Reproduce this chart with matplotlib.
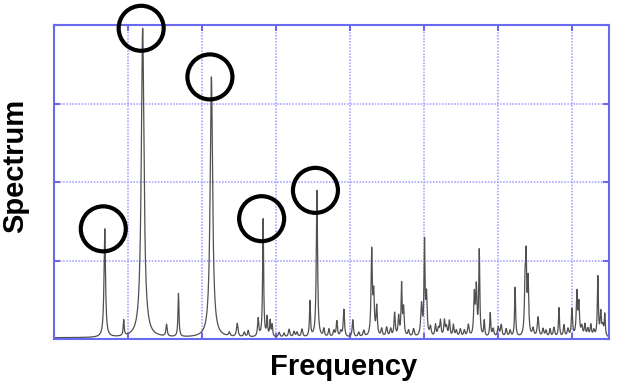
import numpy as np
import matplotlib
matplotlib.use("Agg")
import matplotlib.pyplot as plt

# Peak list (x in grid units 0..7.5, height in grid units 0..4)
peak_pos = [0.686, 0.942, 1.198, 1.521, 1.682, 2.127, 2.476, 2.624, 2.759, 2.826,
            2.880, 2.921, 2.948, 3.177, 3.351, 3.459, 3.553, 3.647, 3.715, 3.822,
            3.917, 4.038, 4.293, 4.320, 4.361, 4.603, 4.657, 4.697, 4.724, 4.966,
            5.007, 5.034, 5.155, 5.222, 5.276, 5.343, 5.397, 5.599, 5.680, 5.707,
            5.747, 5.814, 5.895, 6.043, 6.231, 6.366, 6.380, 6.406, 6.541, 6.703,
            6.824, 6.891, 6.999, 7.066, 7.093, 7.174, 7.254, 7.349, 7.389, 7.443]
peak_height = [1.38, 0.20, 3.94, 0.15, 0.55, 3.32, 0.17, 0.08, 0.23, 1.50,
               0.24, 0.20, 0.15, 0.10, 0.10, 0.45, 1.87, 0.10, 0.10, 0.20,
               0.35, 0.22, 1.08, 0.50, 0.37, 0.30, 0.25, 0.65, 0.35, 0.40,
               1.18, 0.50, 0.15, 0.20, 0.20, 0.20, 0.15, 0.15, 0.52, 0.60,
               1.08, 0.20, 0.30, 0.15, 0.63, 0.65, 0.85, 0.70, 0.25, 0.10,
               0.37, 0.15, 0.35, 0.55, 0.40, 0.15, 0.15, 0.76, 0.30, 0.28]
peak_width = [0.012, 0.008, 0.022, 0.010, 0.008, 0.020, 0.012, 0.010, 0.010, 0.008,
              0.008, 0.008, 0.008, 0.012, 0.012, 0.008, 0.010, 0.010, 0.010, 0.010,
              0.010, 0.010, 0.010, 0.010, 0.010, 0.010, 0.010, 0.008, 0.010, 0.012,
              0.008, 0.010, 0.010, 0.010, 0.010, 0.010, 0.010, 0.012, 0.010, 0.010,
              0.008, 0.008, 0.008, 0.012, 0.008, 0.010, 0.008, 0.010, 0.012, 0.010,
              0.008, 0.010, 0.010, 0.010, 0.010, 0.010, 0.010, 0.008, 0.010, 0.008]

# small bumps that make up the cluttered floor
minor_pos = [2.369, 2.571, 3.042, 3.109, 3.244, 3.284, 3.782, 3.876, 4.118, 4.186,
             4.428, 4.495, 4.549, 4.791, 4.859, 5.087, 5.195, 5.303, 5.437, 5.491,
             5.545, 5.935, 6.003, 6.110, 6.164, 6.474, 6.608, 6.649, 6.756, 6.945,
             7.133, 7.214, 7.295, 7.416]
minor_height = [0.05, 0.06, 0.06, 0.05, 0.07, 0.06, 0.08, 0.07, 0.06, 0.08,
                0.10, 0.12, 0.10, 0.08, 0.10, 0.12, 0.10, 0.12, 0.08, 0.10,
                0.08, 0.10, 0.12, 0.10, 0.08, 0.10, 0.10, 0.08, 0.12, 0.10,
                0.12, 0.10, 0.08, 0.12]
minor_width = 0.012
baseline = 0.015

# the five circled peaks (index into peak list)
circled = [0, 2, 5, 9, 16]

x = np.union1d(np.linspace(0, 7.5, 6000), peak_pos)
y = np.full_like(x, baseline)
for p, h, w in zip(peak_pos, peak_height, peak_width):
    y += h * w**2 / ((x - p)**2 + w**2)
for p, h in zip(minor_pos, minor_height):
    y += h * minor_width**2 / ((x - p)**2 + minor_width**2)

fig = plt.figure(figsize=(6.19, 3.83), dpi=100)
ax = fig.add_axes([54/619, 44/383, 555/619, 314/383])

ax.plot(x, y, color="#505050", lw=0.9)

# circles sit a touch left of the peak tips
cx = [peak_pos[i] - 0.02 for i in circled]
cy = [np.interp(peak_pos[i], x, y) for i in circled]
ax.scatter(cx, cy, s=1050, facecolors="none", edgecolors="black",
           linewidths=3.0, clip_on=False, zorder=5)

ax.set_xlim(0, 7.5)
ax.set_ylim(0, 4)
ax.set_xticks(np.arange(0, 8, 1))
ax.set_yticks(np.arange(0, 5, 1))
ax.set_xticklabels([])
ax.set_yticklabels([])
ax.tick_params(direction="in", length=4, width=1.5, color="#6a6af0",
               top=True, right=True)
ax.grid(True, color="#9a9aff", linestyle=(0, (1, 1)), lw=1.1)
for s in ax.spines.values():
    s.set_color("#6a6af0")
    s.set_linewidth(1.5)

ax.set_xlabel("Frequency", fontsize=21, fontweight="bold", family="Liberation Sans")
ax.set_ylabel("Spectrum", fontsize=21, fontweight="bold", family="Liberation Sans")
ax.xaxis.set_label_coords(0.5225, -0.045)
ax.yaxis.set_label_coords(-0.045, 0.55)
ax.xaxis.label.set_va("top")

fig.savefig("out.png", dpi=100)
